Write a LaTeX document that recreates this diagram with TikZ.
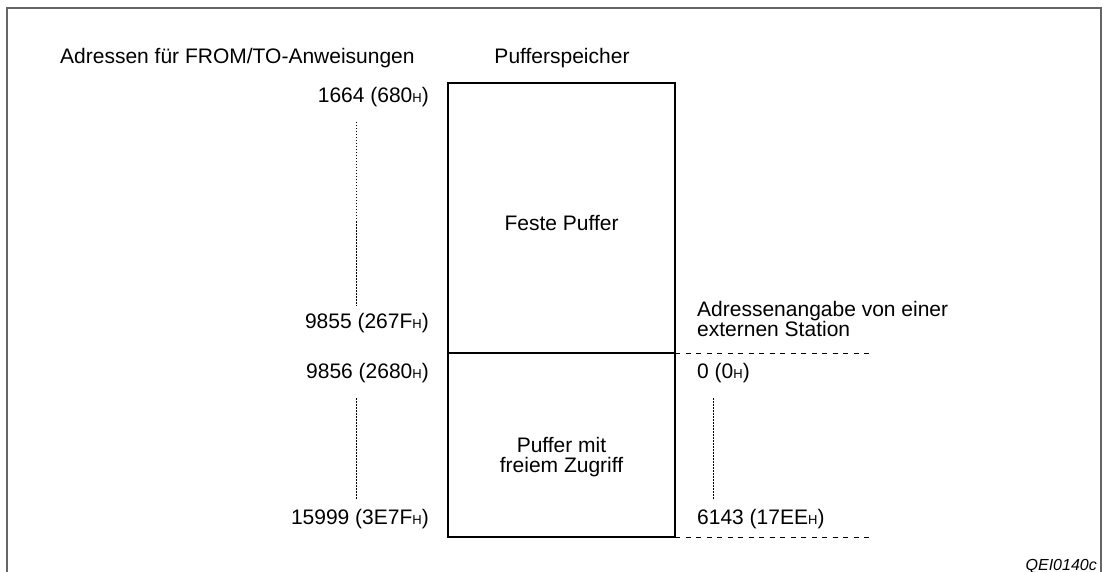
\documentclass[tikz,border=0pt]{standalone}
\usepackage{fontspec}
\setmainfont{Liberation Sans}
\newcommand{\hsub}{{\fontsize{13}{14}\selectfont H}}
\begin{document}
\begin{tikzpicture}[x=1pt,y=-1pt,
  lbl/.style={inner sep=0pt, font=\fontsize{21}{21}\selectfont},
  framed/.style={draw=black!60, line width=2pt},
  boxline/.style={line width=1.4pt},
  dashln/.style={line width=1pt, dash pattern=on 5pt off 5.5pt},
  dotln/.style={line width=1pt, dash pattern=on 1.5pt off 1.5pt}]
\useasboundingbox (0,0) rectangle (1103,572);
% outer frame (open at bottom)
\coordinate (fBL) at (7,572);
\coordinate (fTL) at (7,8);
\coordinate (fTR) at (1101,8);
\coordinate (fBR) at (1101,572);
\draw[framed] (fBL) -- (fTL) -- (fTR) -- (fBR);
% buffer memory box
\coordinate (bTL) at (448,83);
\coordinate (bBR) at (675,537);
\coordinate (dL) at (448,353);
\coordinate (dR) at (675,353);
\draw[boxline] (bTL) rectangle (bBR);
\draw[boxline] (dL) -- (dR);
% dashed extensions
\coordinate (dE) at (872,353);
\coordinate (bE) at (872,537);
\draw[dashln] (dR) -- (dE);
\draw[dashln] (bBR) -- (bE);
% dotted range lines
\coordinate (l1a) at (356,122);
\coordinate (l1b) at (356,306);
\coordinate (l2a) at (356,398);
\coordinate (l2b) at (356,499);
\coordinate (r1a) at (713,398);
\coordinate (r1b) at (713,499);
\draw[dotln] (l1a) -- (l1b);
\draw[dotln] (l2a) -- (l2b);
\draw[dotln] (r1a) -- (r1b);
% titles
\node[lbl, anchor=base west] (tA) at (60,63.5) {Adressen für FROM/TO-Anweisungen};
\node[lbl, anchor=base] (tP) at (562,63.5) {Pufferspeicher};
% left addresses
\node[lbl, anchor=base east] (a1) at (429,103) {1664 (680\hsub)};
\node[lbl, anchor=base east] (a2) at (429,328.5) {9855 (267F\hsub)};
\node[lbl, anchor=base east] (a3) at (429,378.5) {9856 (2680\hsub)};
\node[lbl, anchor=base east] (a4) at (429,524) {15999 (3E7F\hsub)};
% box texts
\node[lbl, anchor=base] (fp) at (561.5,230) {Feste Puffer};
\node[lbl, anchor=base] (pz1) at (561.5,452) {Puffer mit};
\node[lbl, anchor=base] (pz2) at (561.5,472) {freiem Zugriff};
% right side
\node[lbl, anchor=base west] (ext1) at (697,316.7) {Adressenangabe von einer};
\node[lbl, anchor=base west] (ext2) at (697,336.7) {externen Station};
\node[lbl, anchor=base west] (r1) at (697,378.5) {0 (0\hsub)};
\node[lbl, anchor=base west] (r2) at (697,524) {6143 (17EE\hsub)};
% figure code
\node[inner sep=0pt, anchor=base east, font=\fontsize{16}{16}\selectfont\itshape] (code) at (1097,570) {QEI0140c};
\end{tikzpicture}
\end{document}
